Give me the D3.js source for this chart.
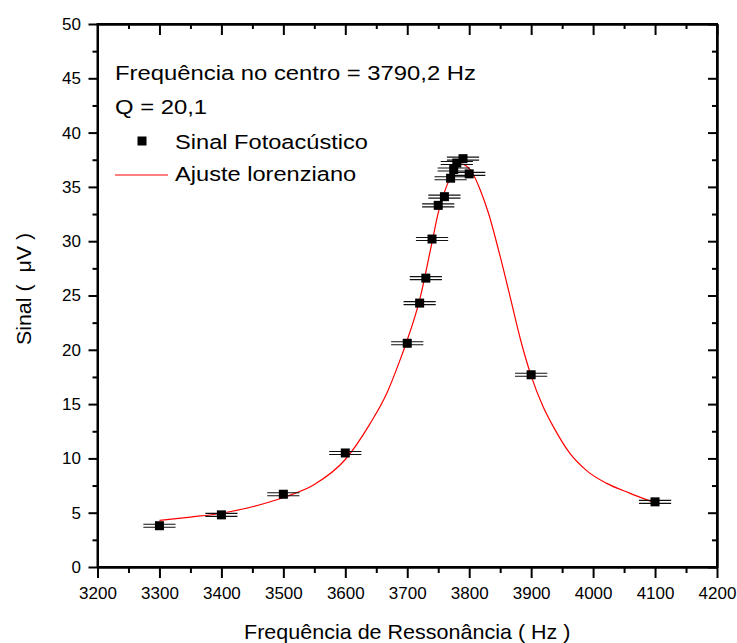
<!DOCTYPE html>
<html>
<head>
<meta charset="utf-8">
<script src="https://cdn.jsdelivr.net/npm/d3@7"></script>
<style>
  html, body { margin: 0; padding: 0; background: #fff; }
  svg { display: block; font-family: "Liberation Sans", Arial, sans-serif; }
</style>
</head>
<body>
<svg id="chart" width="737" height="643"></svg>
<script>
// ---- data ----
const freqHz = [3300, 3400, 3500, 3600, 3700, 3720, 3730, 3740, 3750, 3760, 3770, 3775, 3780, 3790, 3800, 3900, 4100];
const signalUV = [3.8, 4.8, 6.7, 10.5, 20.6, 24.3, 26.6, 30.2, 33.3, 34.1, 35.8, 36.6, 37.2, 37.6, 36.2, 17.7, 6.0];
const freqErrHz = [26, 26, 26, 26, 26, 26, 26, 26, 26, 26, 26, 26, 26, 26, 26, 26, 26];
// fitted curve
const fitHz = [3300, 3350, 3400, 3450, 3500, 3550, 3600, 3640, 3667, 3688, 3700, 3720, 3740, 3750, 3763, 3775, 3788, 3796, 3805, 3818, 3831, 3850, 3866, 3883, 3900, 3919, 3936, 3962, 3989, 4022, 4059, 4100];
const fitUV = [4.3, 4.6, 4.95, 5.55, 6.4, 7.6, 9.9, 13.2, 16.0, 19.0, 20.9, 24.6, 29.9, 32.6, 35.0, 36.4, 37.1, 36.9, 36.3, 34.7, 32.6, 28.6, 24.9, 20.9, 17.6, 14.8, 12.9, 10.5, 8.9, 7.7, 6.8, 5.9];
const xMajorTicks = [3200, 3300, 3400, 3500, 3600, 3700, 3800, 3900, 4000, 4100, 4200];
const xMinorTicks = [3250, 3350, 3450, 3550, 3650, 3750, 3850, 3950, 4050, 4150];
const yMajorTicks = [0, 5, 10, 15, 20, 25, 30, 35, 40, 45, 50];
const yMinorTicks = [2.5, 7.5, 12.5, 17.5, 22.5, 27.5, 32.5, 37.5, 42.5, 47.5];
const infoLines = ["Frequência no centro = 3790,2 Hz", "Q = 20,1"];
const legendLabels = ["Sinal Fotoacústico", "Ajuste lorenziano"];
const xTitle = "Frequência de Ressonância ( Hz )";
const yTitle = "Sinal ( \u00A0μV )";

// ---- layout ----
const svg = d3.select("#chart");
const L = 97.5, R = 717, T = 24, B = 567;
const x = d3.scaleLinear().domain([3200, 4200]).range([L, R]);
const y = d3.scaleLinear().domain([0, 50]).range([B, T]);
const fmt = d3.format("d");
const tf = '"Liberation Sans", Arial, sans-serif';

function styleAxis(g) {
  g.selectAll("path.domain").attr("stroke", "#000").attr("stroke-width", 2);
  g.selectAll(".tick line").attr("stroke", "#000").attr("stroke-width", 2);
  g.selectAll(".tick text").attr("fill", "#000").style("font-size", "17px")
    .style("font-family", tf);
}

// bottom
svg.append("g").attr("transform", `translate(0,${B})`)
  .call(d3.axisBottom(x).tickValues(xMinorTicks).tickSize(6).tickFormat("").tickSizeOuter(0))
  .call(styleAxis);
svg.append("g").attr("transform", `translate(0,${B})`)
  .call(d3.axisBottom(x).tickValues(xMajorTicks).tickSize(11).tickPadding(9).tickFormat(fmt).tickSizeOuter(0))
  .call(styleAxis);
// top (inward)
svg.append("g").attr("transform", `translate(0,${T})`)
  .call(d3.axisBottom(x).tickValues(xMinorTicks).tickSize(5).tickFormat("").tickSizeOuter(0))
  .call(styleAxis);
svg.append("g").attr("transform", `translate(0,${T})`)
  .call(d3.axisBottom(x).tickValues(xMajorTicks).tickSize(11).tickFormat("").tickSizeOuter(0))
  .call(styleAxis);
// left
svg.append("g").attr("transform", `translate(${L},0)`)
  .call(d3.axisLeft(y).tickValues(yMinorTicks).tickSize(5).tickFormat("").tickSizeOuter(0))
  .call(styleAxis);
svg.append("g").attr("transform", `translate(${L},0)`)
  .call(d3.axisLeft(y).tickValues(yMajorTicks).tickSize(9).tickPadding(7.5).tickFormat(fmt).tickSizeOuter(0))
  .call(styleAxis);
// right (inward)
svg.append("g").attr("transform", `translate(${R},0)`)
  .call(d3.axisLeft(y).tickValues(yMinorTicks).tickSize(5).tickFormat("").tickSizeOuter(0))
  .call(styleAxis);
svg.append("g").attr("transform", `translate(${R},0)`)
  .call(d3.axisLeft(y).tickValues(yMajorTicks).tickSize(9).tickFormat("").tickSizeOuter(0))
  .call(styleAxis);
// frame
svg.append("rect").attr("x", L).attr("y", T).attr("width", R - L).attr("height", B - T)
  .attr("fill", "none").attr("stroke", "#000").attr("stroke-width", 2);

// fit curve
const fitData = fitHz.map((f, i) => [f, fitUV[i]]);
svg.append("path").datum(fitData)
  .attr("fill", "none").attr("stroke", "#ff0000").attr("stroke-width", 1.2)
  .attr("d", d3.line().x(d => x(d[0])).y(d => y(d[1])).curve(d3.curveMonotoneX));

// error bars + points
const pts = freqHz.map((f, i) => ({ f, s: signalUV[i], e: freqErrHz[i] }));
const eb = svg.append("g");
[-1.5, 1.5].forEach(off => {
  eb.selectAll(null).data(pts).enter().append("line")
    .attr("x1", d => x(d.f - d.e)).attr("x2", d => x(d.f + d.e))
    .attr("y1", d => y(d.s) + off).attr("y2", d => y(d.s) + off)
    .attr("stroke", "#111").attr("stroke-width", 1.1);
});
svg.append("g").selectAll("rect").data(pts).enter().append("rect")
  .attr("x", d => x(d.f) - 4.5).attr("y", d => y(d.s) - 4.5)
  .attr("width", 9).attr("height", 9).attr("fill", "#000");

// info text + legend (horizontally stretched to match the original rendering)
svg.selectAll("text.info").data(infoLines).enter().append("text")
  .attr("class", "info")
  .attr("transform", (d, i) => `translate(115,${80 + i * 34}) scale(1.135,1)`)
  .style("font-size", "21px").style("font-family", tf).attr("fill", "#000").text(d => d);
svg.append("rect").attr("x", 137.5).attr("y", 136.5).attr("width", 9).attr("height", 9).attr("fill", "#000");
svg.append("line").attr("x1", 115).attr("x2", 168).attr("y1", 175).attr("y2", 175)
  .attr("stroke", "#ff0000").attr("stroke-width", 1.2);
svg.selectAll("text.leg").data(legendLabels).enter().append("text")
  .attr("class", "leg")
  .attr("transform", (d, i) => `translate(175,${149 + i * 32}) scale(1.125,1)`)
  .style("font-size", "21px").style("font-family", tf).attr("fill", "#000").text(d => d);

// axis titles
svg.append("text").attr("transform", `translate(${(L + R) / 2},639) scale(1.076,1)`).attr("text-anchor", "middle")
  .style("font-size", "20px").style("font-family", tf).attr("fill", "#000").text(xTitle);
svg.append("text").attr("transform", `translate(31,289) rotate(-90) scale(1.07,1)`).attr("text-anchor", "middle")
  .style("font-size", "20px").style("font-family", tf).attr("fill", "#000").text(yTitle);
</script>
</body>
</html>
